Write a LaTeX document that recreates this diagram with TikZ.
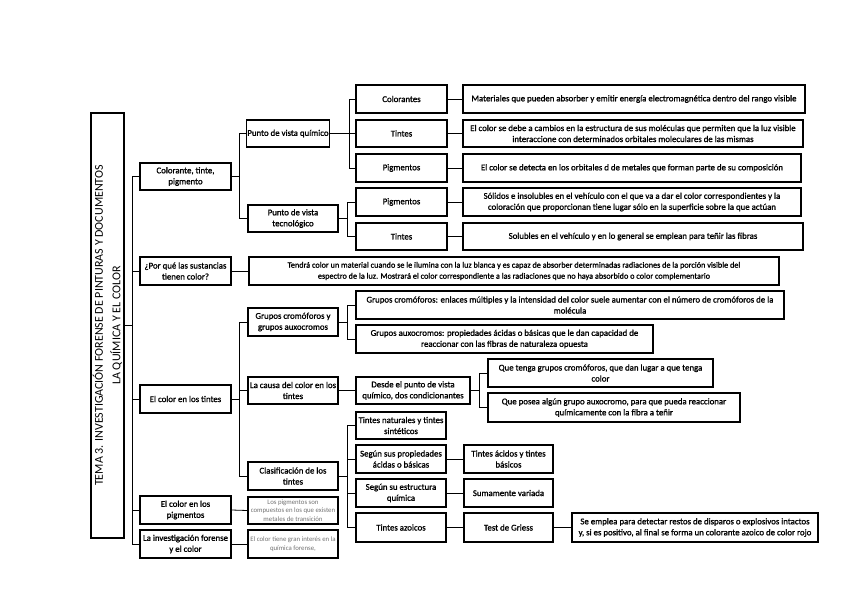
\documentclass[tikz,border=0pt]{standalone}
\usepackage{fontspec}
\setmainfont{Carlito}
\newfontfamily\heavy{Carlito}[FakeBold=1.2]
\newcommand\mkbox[7][]{\node[box,#1,minimum width={#5-#3},minimum height={#6-#4}] (#2) at ({(#3+#5)/2},{(#4+#6)/2}) {#7};}
\begin{document}
\begin{tikzpicture}[x=1pt,y=-1pt,
  box/.style={draw=black, line width=1.1pt, align=center, inner sep=1pt, font=\heavy\fontsize{8.8}{11}\selectfont, text=black},
  small/.style={font=\normalfont\fontsize{6.8}{8.4}\selectfont, text=black!55},
  wide/.style={font=\heavy\fontsize{8.2}{11}\selectfont},
  conn/.style={draw=black, line width=0.8pt}]
\useasboundingbox (0,0) rectangle (848,599);
\fill[white] (0,0) rectangle (848,599);
% root
\mkbox{root}{91}{113}{124}{538}{}
\node[rotate=90, align=center, font=\normalfont\fontsize{12}{17.5}\selectfont] (roottext) at (root.center) {TEMA 3. INVESTIGACIÓN FORENSE DE PINTURAS Y DOCUMENTOS\\ LA QUÍMICA Y EL COLOR};
% level 1
\mkbox{c1}{140}{163}{231}{190}{Colorante, tinte,\\ pigmento}
\mkbox{c2}{140}{257}{231}{285}{¿Por qué las sustancias\\ tienen color?}
\mkbox{c3}{140}{385}{231}{413}{El color en los tintes}
\mkbox{c4}{140}{496}{231}{524}{El color en los\\ pigmentos}
\mkbox{c5}{140}{530}{231}{558}{La investigación forense\\ y el color}
% level 2
\mkbox{p1}{248}{120}{328}{147}{Punto de vista químico}
\mkbox{p2}{248}{205}{338}{232}{Punto de vista\\ tecnológico}
\mkbox[wide]{p3}{249}{257}{779}{285}{Tendrá color un material cuando se le ilumina con la luz blanca y es capaz de absorber determinadas radiaciones de la porción visible del\\ espectro de la luz. Mostrará el color correspondiente a las radiaciones que no haya absorbido o color complementario}
\mkbox{p4}{248}{308}{338}{336}{Grupos cromóforos y\\ grupos auxocromos}
\mkbox{p5}{248}{377}{338}{404}{La causa del color en los\\ tintes}
\mkbox{p6}{248}{462}{338}{490}{Clasificación de los\\ tintes}
\mkbox[small]{p7}{248}{497}{338}{524}{Los pigmentos son\\ compuestos en los que existen\\ metales de transición}
\mkbox[small]{p8}{248}{530}{338}{558}{El color tiene gran interés en la\\ química forense,}
% level 3 (colorante)
\mkbox{q1}{356}{85}{447}{113}{Colorantes}
\mkbox{q2}{356}{120}{447}{147}{Tintes}
\mkbox{q3}{356}{154}{447}{182}{Pigmentos}
\mkbox{q4}{356}{188}{447}{216}{Pigmentos}
\mkbox{q5}{356}{223}{447}{250}{Tintes}
\mkbox{r1}{463}{85}{805}{113}{Materiales que pueden absorber y emitir energía electromagnética dentro del rango visible}
\mkbox{r2}{463}{120}{803}{147}{El color se debe a cambios en la estructura de sus moléculas que permiten que la luz visible\\ interaccione con determinados orbitales moleculares de las mismas}
\mkbox{r3}{463}{154}{801}{182}{El color se detecta en los orbitales d de metales que forman parte de su composición}
\mkbox{r4}{463}{188}{801}{216}{Sólidos e insolubles en el vehículo con el que va a dar el color correspondientes y la\\ coloración que proporcionan tiene lugar sólo en la superficie sobre la que actúan}
\mkbox{r5}{463}{223}{803}{250}{Solubles en el vehículo y en lo general se emplean para teñir las fibras}
% level 3 (tintes)
\mkbox{q6}{356}{291}{784}{319}{Grupos cromóforos: enlaces múltiples y la intensidad del color suele aumentar con el número de cromóforos de la\\ molécula}
\mkbox{q7}{356}{325}{653}{353}{Grupos auxocromos: propiedades ácidas o básicas que le dan capacidad de\\ reaccionar con las fibras de naturaleza opuesta}
\mkbox{q8}{356}{377}{470}{404}{Desde el punto de vista\\ químico, dos condicionantes}
\mkbox{s1}{488}{359}{713}{387}{Que tenga grupos cromóforos, que dan lugar a que tenga\\ color}
\mkbox{s2}{488}{393}{740}{422}{Que posea algún grupo auxocromo, para que pueda reaccionar\\ químicamente con la fibra a teñir}
\mkbox{q9}{356}{412}{446}{439}{Tintes naturales y tintes\\ sintéticos}
\mkbox{q10}{356}{445}{446}{473}{Según sus propiedades\\ ácidas o básicas}
\mkbox{q11}{356}{479}{446}{507}{Según su estructura\\ química}
\mkbox{q12}{356}{513}{446}{542}{Tintes azoicos}
\mkbox{t1}{464}{445}{553}{473}{Tintes ácidos y tintes\\ básicos}
\mkbox{t2}{464}{479}{553}{507}{Sumamente variada}
\mkbox{t3}{464}{513}{553}{542}{Test de Griess}
\mkbox{u1}{572}{513}{818}{542}{Se emplea para detectar restos de disparos o explosivos intactos\\ y, si es positivo, al final se forma un colorante azoico de color rojo}
% connectors
\foreach \c in {c1,c2,c3,c4,c5} \draw[conn] (root.east) -- ++(8,0) |- (\c.west);
\foreach \c in {p1,p2} \draw[conn] (c1.east) -- ++(8,0) |- (\c.west);
\foreach \c in {q1,q2,q3} \draw[conn] (p1.east) -- ++(19,0) |- (\c.west);
\foreach \c in {q4,q5} \draw[conn] (p2.east) -- ++(9,0) |- (\c.west);
\draw[conn] (q1.east) -- (r1.west);
\draw[conn] (q2.east) -- (r2.west);
\draw[conn] (q3.east) -- (r3.west);
\draw[conn] (q4.east) -- (r4.west);
\draw[conn] (q5.east) -- (r5.west);
\draw[conn] (c2.east) -- (p3.west);
\foreach \c in {p4,p5,p6} \draw[conn] (c3.east) -- ++(8,0) |- (\c.west);
\foreach \c in {q6,q7} \draw[conn] (p4.east) -- ++(9,0) |- (\c.west);
\draw[conn] (p5.east) -- (q8.west);
\foreach \c in {s1,s2} \draw[conn] (q8.east) -- ++(9,0) |- (\c.west);
\foreach \c in {q9,q10,q11,q12} \draw[conn] (p6.east) -- ++(9,0) |- (\c.west);
\draw[conn] (q10.east) -- (t1.west);
\draw[conn] (q11.east) -- (t2.west);
\draw[conn] (q12.east) -- (t3.west);
\draw[conn] (t3.east) -- (u1.west);
\draw[conn] (c4.east) -- (p7.west);
\draw[conn] (c5.east) -- (p8.west);
\end{tikzpicture}
\end{document}
